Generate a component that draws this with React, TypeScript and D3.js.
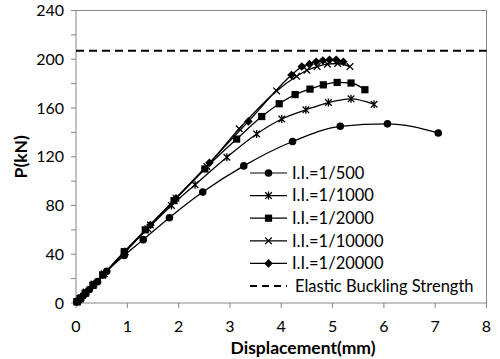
import React from 'react';
import * as d3 from 'd3';

// displacement (mm), load (kN)
const ii500: [number, number][] = [
  [0.02, 1], [0.05, 2], [0.14, 6], [0.26, 11], [0.42, 17.5], [0.6, 26], [0.94, 39],
  [1.31, 52], [1.82, 70], [2.47, 91], [3.27, 112.5], [4.22, 132.5], [5.15, 145],
  [6.07, 147], [7.06, 139.5],
];
const ii1000: [number, number][] = [
  [0.02, 1], [0.08, 3.5], [0.18, 8], [0.33, 14.5], [0.52, 23], [0.96, 42], [1.4, 61],
  [1.86, 80], [2.32, 97], [2.94, 119.6], [3.52, 138.7], [4.01, 151], [4.48, 158.5],
  [4.92, 164.5], [5.36, 167.5], [5.81, 163],
];
const ii2000: [number, number][] = [
  [0.02, 1], [0.08, 3.5], [0.18, 8], [0.33, 14.5], [0.52, 23], [0.94, 42], [1.35, 60],
  [1.91, 84], [2.51, 110], [3.13, 134.5], [3.62, 153], [3.96, 163.5], [4.27, 171],
  [4.56, 175.5], [4.82, 179], [5.09, 181], [5.36, 180.5], [5.63, 175],
];
const ii10000: [number, number][] = [
  [0.02, 1], [0.1, 4.5], [0.2, 9], [0.35, 15.5], [0.55, 24], [0.95, 42], [1.45, 64],
  [1.95, 86], [2.55, 112], [3.18, 143], [3.91, 174], [4.3, 186], [4.5, 191],
  [4.7, 194], [4.9, 196], [5.1, 196.5], [5.34, 194],
];
const ii20000: [number, number][] = [
  [0.02, 1], [0.1, 4.5], [0.2, 9], [0.35, 15.5], [0.55, 24], [0.95, 42], [1.45, 64],
  [1.95, 86], [2.6, 115], [3.36, 149], [4.2, 187], [4.4, 194], [4.55, 196],
  [4.68, 198], [4.81, 199], [4.94, 199.5], [5.07, 199.5], [5.21, 198],
];
const elasticBuckling = 207;

const seriesNames = ['I.I.=1/500', 'I.I.=1/1000', 'I.I.=1/2000', 'I.I.=1/10000', 'I.I.=1/20000'];
const seriesData = [ii500, ii1000, ii2000, ii10000, ii20000];
const markerTypes = ['circle', 'asterisk', 'square', 'cross', 'diamond'];

const xTicks = [0, 1, 2, 3, 4, 5, 6, 7, 8];
const yTicks = [0, 40, 80, 120, 160, 200, 240];
const yMinorTicks = [20, 60, 100, 140, 180, 220];

const W = 500;
const H = 359;
const axisColor = '#868686';
const font = 'Lato, "Open Sans", sans-serif';

function Marker({ type, cx, cy }: { type: string; cx: number; cy: number }) {
  if (type === 'circle') return <circle cx={cx} cy={cy} r={3.8} fill="#000" />;
  if (type === 'square') return <rect x={cx - 3.6} y={cy - 3.6} width={7.2} height={7.2} fill="#000" />;
  if (type === 'diamond')
    return <path d={`M${cx},${cy - 4.3}L${cx + 4.3},${cy}L${cx},${cy + 4.3}L${cx - 4.3},${cy}Z`} fill="#000" />;
  const s = 3.3;
  const cross = `M${cx - s},${cy - s}L${cx + s},${cy + s}M${cx - s},${cy + s}L${cx + s},${cy - s}`;
  if (type === 'cross') return <path d={cross} stroke="#000" strokeWidth={1.3} fill="none" />;
  // asterisk
  return <path d={`${cross}M${cx},${cy - 4}L${cx},${cy + 4}`} stroke="#000" strokeWidth={1.3} fill="none" />;
}

export default function App() {
  const x = d3.scaleLinear().domain([0, 8]).range([76, 486.5]);
  const y = d3.scaleLinear().domain([0, 240]).range([303, 10.5]);
  const line = d3.line<[number, number]>().x(d => x(d[0])).y(d => y(d[1])).curve(d3.curveMonotoneX);

  const legendX = 250;
  const legendY0 = 173;
  const legendStep = 22.6;

  return (
    <svg width={W} height={H} style={{ position: 'absolute', left: 0, top: 0, background: '#fff' }}>
      {/* frame */}
      <rect x={x(0)} y={y(240)} width={x(8) - x(0)} height={y(0) - y(240)} fill="none" stroke={axisColor} strokeWidth={1} />

      {/* y ticks */}
      {yTicks.concat(yMinorTicks).map(t => (
        <line key={'yt' + t} x1={x(0) - 5} x2={x(0)} y1={y(t)} y2={y(t)} stroke={axisColor} />
      ))}
      {yTicks.map(t => (
        <text key={'yl' + t} x={64} y={y(t)} dy="0.35em" textAnchor="end" fontSize={16} fontFamily={font} fill="#000">
          {t}
        </text>
      ))}

      {/* x ticks */}
      {xTicks.map(t => (
        <g key={'xt' + t}>
          <line x1={x(t)} x2={x(t)} y1={y(0)} y2={y(0) + 5} stroke={axisColor} />
          <text x={x(t)} y={326} dy="0.35em" textAnchor="middle" fontSize={16} fontFamily={font} fill="#000">
            {t}
          </text>
        </g>
      ))}

      {/* elastic buckling strength */}
      <line x1={x(0)} x2={x(8)} y1={y(elasticBuckling)} y2={y(elasticBuckling)} stroke="#000" strokeWidth={2} strokeDasharray="8,5" />

      {/* curves */}
      {seriesData.map((d, i) => (
        <g key={seriesNames[i]}>
          <path d={line(d) || ''} fill="none" stroke="#000" strokeWidth={1.3} />
          {d.map((p, j) => (
            <Marker key={j} type={markerTypes[i]} cx={x(p[0])} cy={y(p[1])} />
          ))}
        </g>
      ))}

      {/* legend */}
      {seriesNames.map((name, i) => {
        const ly = legendY0 + i * legendStep;
        return (
          <g key={'lg' + name}>
            <line x1={legendX} x2={legendX + 37} y1={ly} y2={ly} stroke={i === 0 ? '#7f7f7f' : '#000'} strokeWidth={i === 0 ? 2 : 1.3} />
            <Marker type={markerTypes[i]} cx={legendX + 18.5} cy={ly} />
            <text x={legendX + 42} y={ly} dy="0.35em" fontSize={16.5} fontFamily={font} fill="#000">
              {name}
            </text>
          </g>
        );
      })}
      <line
        x1={legendX}
        x2={legendX + 37}
        y1={legendY0 + 5 * legendStep}
        y2={legendY0 + 5 * legendStep}
        stroke="#000"
        strokeWidth={2}
        strokeDasharray="7,5"
      />
      <text x={legendX + 45} y={legendY0 + 5 * legendStep} dy="0.35em" fontSize={16.5} fontFamily={font} fill="#000">
        Elastic Buckling Strength
      </text>

      {/* axis titles */}
      <text x={303} y={348} dy="0.35em" textAnchor="middle" fontSize={17.5} fontWeight="bold" fontFamily={font} fill="#000">
        Displacement(mm)
      </text>
      <text
        transform={`translate(21,${(y(0) + y(240)) / 2}) rotate(-90)`}
        dy="0.35em"
        textAnchor="middle"
        fontSize={17.5}
        fontWeight="bold"
        fontFamily={font}
        fill="#000"
      >
        P(kN)
      </text>
    </svg>
  );
}
